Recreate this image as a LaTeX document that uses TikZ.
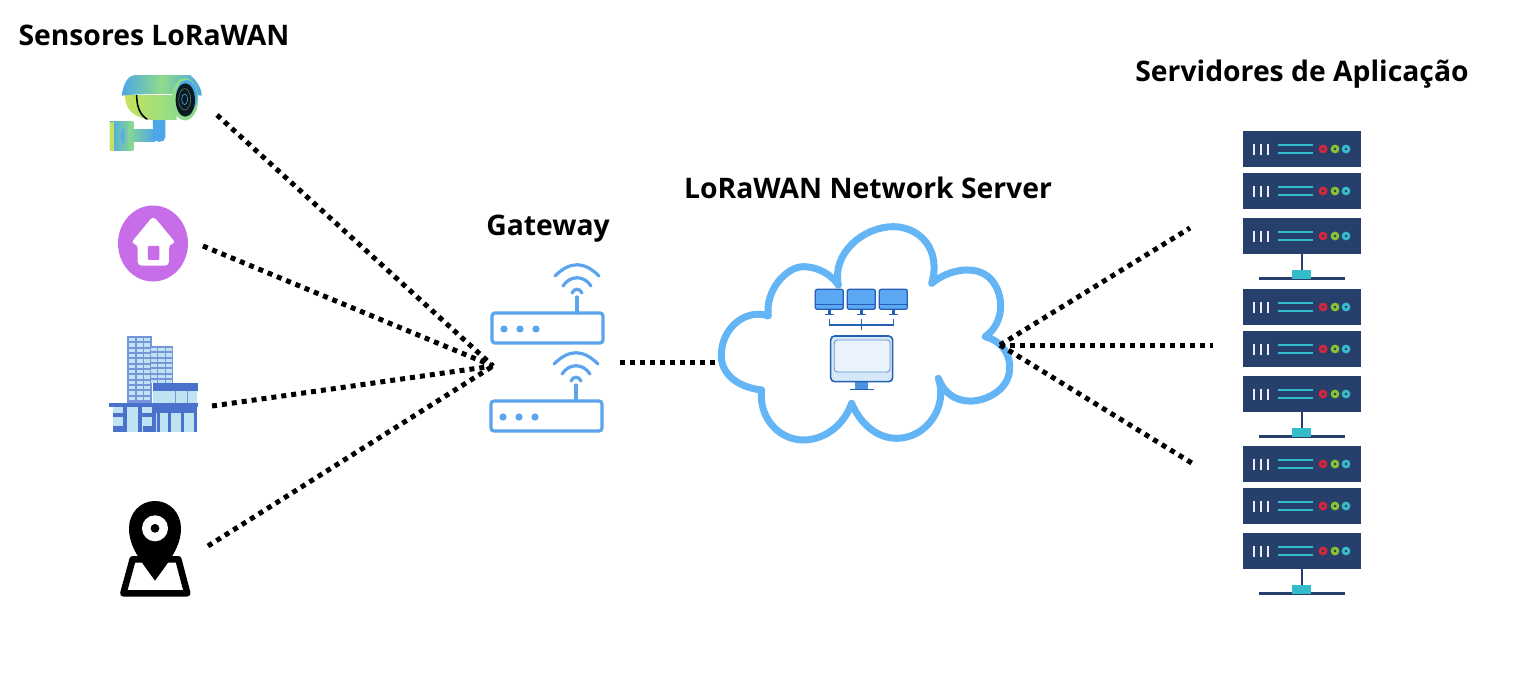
\documentclass[tikz,border=0pt]{standalone}
\usepackage{fontspec}
\setmainfont{Open Sans}
\usetikzlibrary{calc}

\definecolor{wifiblue}{HTML}{5BA4EE}
\definecolor{cloudblue}{HTML}{64B5F6}
\definecolor{monedge}{HTML}{2460B4}
\definecolor{monfill}{HTML}{5CA8F4}
\definecolor{monpale}{HTML}{D5E8FA}
\definecolor{rackblue}{HTML}{27406B}
\definecolor{rackteal}{HTML}{35BCCB}
\definecolor{rackred}{HTML}{D6263B}
\definecolor{rackgreen}{HTML}{86C232}
\definecolor{homepurple}{HTML}{C76DE8}
\definecolor{towerblue}{HTML}{4A72CC}
\definecolor{towerpale}{HTML}{BFE3F2}
\definecolor{camblue}{HTML}{4CA6E8}
\definecolor{camgreen}{HTML}{8FDC8A}
\definecolor{camlime}{HTML}{C4E35A}

% one router, #1 is the shift
\newcommand{\drawrouter}[1]{
  \begin{scope}[shift={#1}]
    \draw[wifiline,rounded corners=3pt] (492,313) rectangle (603,343);
    \draw[wifiline] (577,313) -- (577,297);
    \draw[wifiline] (555,276) .. controls (570,261) and (584,261) .. (599,276);
    \draw[wifiline] (563,286) .. controls (570,275) and (584,275) .. (591,286);
    \draw[wifiline] (572,293) .. controls (574,288) and (580,288) .. (582,293);
    \foreach \dotx in {504,520,536}
      \fill[wifiblue] (\dotx,329) circle (3.6pt);
  \end{scope}
}

% one rack of three units with its foot, #1 is the shift
\newcommand{\drawrack}[1]{
  \begin{scope}[shift={#1}]
    \foreach \unity in {149,191,236} {
      \fill[rackblue] (1243,\unity-18) rectangle (1361,\unity+18);
      \foreach \barx in {1254,1261,1268}
        \draw[line width=2.6pt,white!90!rackblue] (\barx,\unity-5.5) -- (\barx,\unity+5.5);
      \draw[line width=2.2pt,rackteal] (1278,\unity-4) -- (1313,\unity-4);
      \draw[line width=2.2pt,rackteal] (1278,\unity+4) -- (1313,\unity+4);
      \draw[line width=2.8pt,rackred] (1323,\unity) circle (2.9pt);
      \draw[line width=2.8pt,rackgreen] (1335,\unity) circle (2.9pt);
      \draw[line width=2.8pt,rackteal] (1346,\unity) circle (2.9pt);
    }
    \draw[line width=2.5pt,rackblue] (1302,254) -- (1302,272);
    \draw[line width=3pt,rackblue] (1259,278) -- (1345,278);
    \fill[rackteal] (1292,270) rectangle (1311,279);
  \end{scope}
}

\begin{document}
\begin{tikzpicture}[x=1pt,y=-1pt]
  \tikzstyle{title}=[font=\fontsize{28.3}{30}\selectfont\bfseries, text=black, inner sep=0pt, anchor=base]
  \tikzstyle{iconbox}=[rectangle, inner sep=0pt, outer sep=0pt, minimum height=10pt]
  \tikzstyle{dots}=[line width=5pt, black, dash pattern=on 5pt off 5pt]
  \tikzstyle{wifiline}=[line width=3.2pt, wifiblue, line cap=round]
  \tikzstyle{cloudline}=[line width=7pt, cloudblue, line join=round]
  \tikzstyle{monline}=[line width=1.3pt, monedge]
  \tikzstyle{zoomed}=[x=0.3333pt, y=-0.3333pt]
  \useasboundingbox (0,0) rectangle (1515,681);
  \fill[white] (0,0) rectangle (1515,681);

  \node[title] (sensores) at (154,45.5) {Sensores LoRaWAN};
  \node[title] (gatewaytitle) at (548,235) {Gateway};
  \node[title] (nstitle) at (868,198) {LoRaWAN Network Server};
  \node[title] (apptitle) at (1302,81) {Servidores de Aplicação};

  % camera
  \begin{scope}[shift={(90,60)},zoomed]
    \path[left color=camblue,right color=camgreen] (60,185) rectangle (130,272);
    \fill[camlime] (60,185) rectangle (72,272);
    \path[left color=camgreen,right color=camblue] (105,210) rectangle (195,246);
    \path[left color=camblue,right color=camgreen] (105,228) ellipse (12 and 26);
    \fill[camblue] (188,175) -- (226,175) -- (226,232) .. controls (226,250) and (190,250) .. (190,232) -- cycle;
    \path[left color=camlime,right color=camgreen] (105,105) -- (260,105) -- (260,180) -- (180,180) .. controls (130,170) and (105,150) .. (105,105) -- cycle;
    \draw[line width=1.5pt,black] (140,105) .. controls (140,140) and (150,165) .. (172,178);
    \path[left color=camblue,right color=camblue,middle color=camgreen] (95,107) .. controls (100,70) and (115,45) .. (135,45) -- (300,45) .. controls (320,60) and (335,85) .. (335,107) .. controls (300,100) and (150,100) .. (95,107) -- cycle;
    \fill[camgreen] (285,118) ellipse (40 and 63);
    \fill[camblue] (290,110) ellipse (32 and 50);
    \fill[black!85!camblue] (286,120) ellipse (29 and 50);
    \draw[line width=.6pt,camblue] (284,118) ellipse (9 and 16);
    \draw[line width=.6pt,camgreen!60!black] (284,118) ellipse (18 and 32);
  \end{scope}
  \node[iconbox,minimum width=122pt] (camera) at (156,115) {};

  % home
  \fill[homepurple] (153,243.5) ellipse (35pt and 38pt);
  \begin{scope}[shift={(90,60)},zoomed]
    \fill[white,rounded corners=4pt] (190,468) -- (258,550) -- (237,552) -- (237,617) -- (143,617) -- (143,552) -- (122,550) -- cycle;
    \fill[homepurple,rounded corners=1pt] (174,558) rectangle (208,600);
  \end{scope}
  \node[iconbox,minimum width=100pt] (home) at (153,246) {};

  % building
  \begin{scope}[shift={(90,320)},zoomed]
    \fill[towerblue!75] (112,48) rectangle (185,250);
    \fill[towerblue!75] (175,78) rectangle (250,190);
    \foreach \rowy in {54,70,...,230}
      \foreach \colx in {116,140,162}
        \fill[towerpale] (\colx,\rowy) rectangle ++(19,10);
    \foreach \rowy in {84,100,...,180}
      \foreach \colx in {182,205,228}
        \fill[towerpale] (\colx,\rowy) rectangle ++(19,10);
    \fill[towerpale] (190,212) rectangle (322,250);
    \foreach \colx in {255,290}
      \fill[towerblue!75] (\colx,212) rectangle ++(3,38);
    \fill[towerblue] (190,188) rectangle (325,212);
    \fill[towerblue] (58,248) rectangle (325,260);
    \fill[towerblue] (190,260) rectangle (322,280);
    \fill[towerpale] (70,260) rectangle (190,337);
    \fill[towerpale] (190,280) rectangle (322,337);
    \foreach \colx in {200,235,272,312}
      \fill[towerblue] (\colx,280) rectangle ++(9,57);
    \foreach \colx in {100,145,185}
      \fill[towerblue] (\colx,262) rectangle ++(12,75);
    \fill[towerblue] (70,318) rectangle (105,337);
    \fill[towerblue] (160,318) rectangle (190,337);
    \fill[towerblue] (70,280) rectangle (100,292);
    \fill[towerblue] (157,280) rectangle (190,292);
  \end{scope}
  \node[iconbox,minimum width=118pt] (building) at (153,406) {};

  % map pin
  \begin{scope}[shift={(90,320)},zoomed]
    \draw[line width=6.5pt,black,fill=white,line join=round] (128,718) -- (265,718) -- (292,820) -- (100,820) -- cycle;
    \fill[black] (195,782) .. controls (150,720) and (117,680) .. (117,625) .. controls (117,580) and (150,543) .. (195,543) .. controls (240,543) and (273,580) .. (273,625) .. controls (273,680) and (240,720) .. (195,782) -- cycle;
    \fill[white] (195,625) circle (13pt);
    \fill[black] (195,625) circle (4.4pt);
  \end{scope}
  \node[iconbox,minimum width=106pt] (pin) at (155,546) {};

  % gateway
  \drawrouter{(0,0)}
  \drawrouter{(-1,88)}
  \node[iconbox,minimum width=125pt,minimum height=172pt] (gateway) at (557.5,362) {};
  \coordinate (gatewayin) at (493,366);

  % cloud
  \begin{scope}[shift={(700,210)},zoomed]
    \draw[cloudline] (185,540) .. controls (100,530) and (55,480) .. (65,420) .. controls (72,350) and (140,295) .. (205,318)
      .. controls (195,240) and (260,170) .. (310,170) .. controls (355,170) and (395,195) .. (415,225)
      .. controls (395,130) and (490,50) .. (580,50) .. controls (660,50) and (725,120) .. (695,220)
      .. controls (750,175) and (830,165) .. (870,205) .. controls (915,250) and (915,340) .. (855,380)
      .. controls (915,395) and (940,450) .. (925,500) .. controls (905,570) and (760,620) .. (715,505)
      .. controls (745,590) and (680,685) .. (590,685) .. controls (530,685) and (480,640) .. (455,580)
      .. controls (430,650) and (370,690) .. (310,690) .. controls (235,690) and (175,620) .. (185,540) -- cycle;
    \foreach \monx in {0,96,192} {
      \begin{scope}[shift={(\monx*0.3333pt,0)}]
        \draw[monline] (375,313) -- (402,313);
        \fill[monedge] (383,298) rectangle (394,312);
        \draw[monline,fill=monfill,rounded corners=2pt] (346,238) rectangle (430,298);
        \draw[monline] (346,284) -- (430,284);
      \end{scope}
    }
    \draw[monline] (388,328) -- (388,345) -- (580,345) -- (580,328);
    \draw[monline] (484,328) -- (484,360);
    \fill[monfill!70!monedge] (465,515) rectangle (505,538);
    \draw[monline] (449,538) -- (521,538);
    \draw[line width=1.6pt,monedge,fill=monpale,rounded corners=4pt] (392,378) rectangle (578,515);
    \draw[line width=.8pt,monedge!70,fill=monpale!50,rounded corners=3pt] (403,390) rectangle (570,486);
  \end{scope}
  \node[iconbox,minimum width=284pt,minimum height=200pt] (cloud) at (858,345) {};

  % servers
  \drawrack{(0,0)}
  \drawrack{(0,158)}
  \drawrack{(0,315)}
  \coordinate (rackA) at (1190,228);
  \coordinate (rackB) at (1213,345);
  \coordinate (rackC) at (1195,465);

  \draw[dots] (camera.east) -- (gatewayin);
  \draw[dots] (home.east) -- (gatewayin);
  \draw[dots] (building.east) -- (gatewayin);
  \draw[dots] (pin.east) -- (gatewayin);
  \draw[dots] (gateway.east) -- (gateway.east -| cloud.west);
  \draw[dots] (cloud.east) -- (rackA);
  \draw[dots] (cloud.east) -- (rackB);
  \draw[dots] (cloud.east) -- (rackC);
\end{tikzpicture}
\end{document}
